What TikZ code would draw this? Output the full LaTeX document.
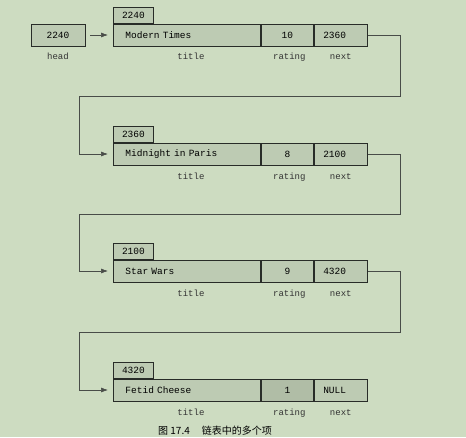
\documentclass[tikz,border=0pt]{standalone}
\usepackage{fontspec}
\setmonofont{Liberation Mono}
\newfontfamily\cjk{Noto Sans CJK SC}
\usetikzlibrary{arrows.meta, positioning}
\definecolor{pagecolor}{RGB}{205,220,193}
\definecolor{fieldcolor}{RGB}{189,203,179}
\definecolor{darkfield}{RGB}{176,189,166}
\definecolor{linecolor}{RGB}{40,44,40}

\tikzset{
    field/.style={draw=linecolor, line width=0.9pt, fill=fieldcolor, minimum height=22pt,
        inner sep=0pt, anchor=west, font=\ttfamily\fontsize{9.5}{11}\selectfont},
    titlefield/.style={field, minimum width=147pt, text width=123pt, align=left},
    ratingfield/.style={field, minimum width=52pt},
    nextfield/.style={field, minimum width=53pt, text width=35pt, align=left},
    addrtab/.style={field, minimum height=16pt, minimum width=40pt, anchor=south west},
    fieldname/.style={font=\ttfamily\fontsize{9}{11}\selectfont, text=black!80, inner sep=0pt,
        text height=5.5pt, text depth=1.5pt},
    link/.style={draw=linecolor!85, line width=0.6pt},
    pointer/.style={link, -{Latex[length=7pt,width=5pt]}, shorten >=5pt},
}

\begin{document}
\begin{tikzpicture}[x=1pt, y=-1pt]
            % Draw the page
            \useasboundingbox (0,0) rectangle (466,437);
            \fill[pagecolor] (0,0) rectangle (466,437);

            % Draw the head pointer
            \node[field, minimum width=54pt, anchor=center] (head) at (58,35) {2240};
            \node[fieldname] (headlab) at ([yshift=-22pt]head.center) {head};

            % Draw the first item
            \node[titlefield] (title1) at (113,35) {Modern Times};
            \node[ratingfield] (rating1) at (title1.east) {10};
            \node[nextfield] (next1) at (rating1.east) {2360};
            \node[addrtab] (addr1) at (title1.north west) {2240};

            % Draw the second item
            \node[titlefield] (title2) at (113,154) {Midnight in Paris};
            \node[ratingfield] (rating2) at (title2.east) {8};
            \node[nextfield] (next2) at (rating2.east) {2100};
            \node[addrtab] (addr2) at (title2.north west) {2360};

            % Draw the third item
            \node[titlefield] (title3) at (113,271) {Star Wars};
            \node[ratingfield] (rating3) at (title3.east) {9};
            \node[nextfield] (next3) at (rating3.east) {4320};
            \node[addrtab] (addr3) at (title3.north west) {2100};

            % Draw the fourth item
            \node[titlefield] (title4) at (113,390) {Fetid Cheese};
            \node[ratingfield, fill=darkfield] (rating4) at (title4.east) {1};
            \node[nextfield] (next4) at (rating4.east) {NULL};
            \node[addrtab] (addr4) at (title4.north west) {4320};

            % Label the fields
            \node[fieldname] (tlab1) at ([xshift=4pt, yshift=-22pt]title1.center) {title};
            \node[fieldname] (rlab1) at ([xshift=2pt, yshift=-22pt]rating1.center) {rating};
            \node[fieldname] (nlab1) at ([yshift=-22pt]next1.center) {next};
            \node[fieldname] (tlab2) at ([xshift=4pt, yshift=-23pt]title2.center) {title};
            \node[fieldname] (rlab2) at ([xshift=2pt, yshift=-23pt]rating2.center) {rating};
            \node[fieldname] (nlab2) at ([yshift=-23pt]next2.center) {next};
            \node[fieldname] (tlab3) at ([xshift=4pt, yshift=-23pt]title3.center) {title};
            \node[fieldname] (rlab3) at ([xshift=2pt, yshift=-23pt]rating3.center) {rating};
            \node[fieldname] (nlab3) at ([yshift=-23pt]next3.center) {next};
            \node[fieldname] (tlab4) at ([xshift=4pt, yshift=-23pt]title4.center) {title};
            \node[fieldname] (rlab4) at ([xshift=2pt, yshift=-23pt]rating4.center) {rating};
            \node[fieldname] (nlab4) at ([yshift=-23pt]next4.center) {next};

            % Draw the links
            \coordinate (bend1) at (79,96);
            \coordinate (bend2) at (79,214);
            \coordinate (bend3) at (79,332);
            \draw[pointer, shorten <=5pt] (head) -- (title1);
            \draw[pointer] (next1.east) -- ++(33,0) |- (bend1) |- (title2.west);
            \draw[pointer] (next2.east) -- ++(33,0) |- (bend2) |- (title3.west);
            \draw[pointer] (next3.east) -- ++(33,0) |- (bend3) |- (title4.west);

            % Caption
            \node[font=\cjk\fontsize{10}{12}\selectfont, inner sep=0pt] (caption) at (215,431)
                {图 17.4\hspace{1.2em}链表中的多个项};
        \end{tikzpicture}
\end{document}
